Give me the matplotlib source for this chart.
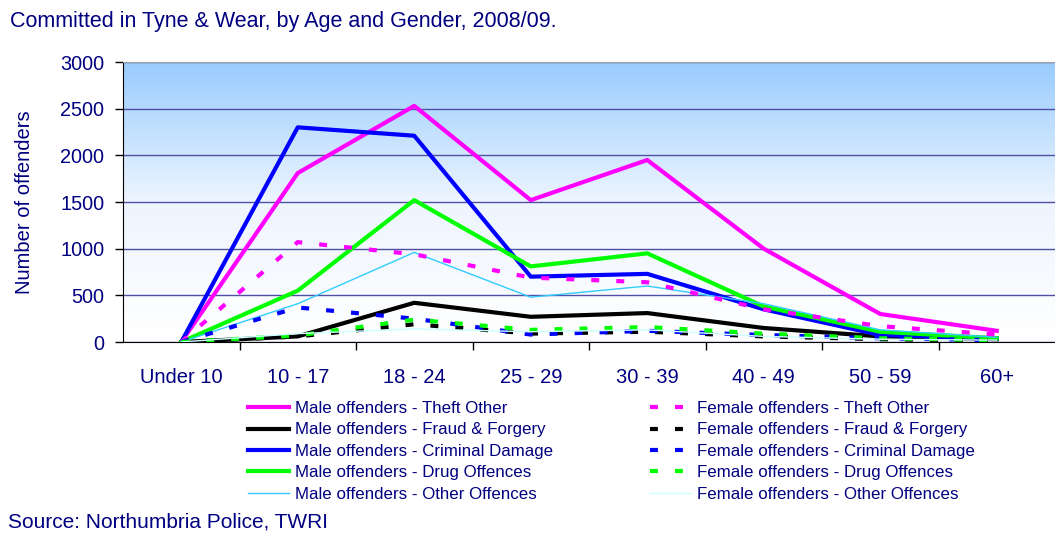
import numpy as np
import matplotlib.pyplot as plt
from matplotlib.colors import LinearSegmentedColormap

plt.rcParams['font.family'] = ['Liberation Sans', 'DejaVu Sans']

navy = '#000080'

age_groups = ['Under 10', '10 - 17', '18 - 24', '25 - 29', '30 - 39', '40 - 49', '50 - 59', '60+']

male_theft = [0, 1810, 2530, 1520, 1950, 1000, 300, 120]
male_fraud = [0, 60, 420, 270, 310, 150, 60, 30]
male_damage = [0, 2300, 2210, 700, 730, 350, 75, 40]
male_drug = [0, 550, 1520, 810, 950, 380, 110, 40]
male_other = [0, 410, 960, 480, 600, 410, 130, 50]

female_theft = [0, 1070, 940, 690, 640, 350, 170, 80]
female_fraud = [0, 60, 190, 90, 110, 60, 30, 15]
female_damage = [0, 370, 250, 80, 120, 75, 40, 20]
female_drug = [0, 70, 240, 130, 160, 90, 40, 20]
female_other = [0, 90, 140, 110, 130, 60, 30, 20]

male_labels = ['Male offenders - Theft Other', 'Male offenders - Fraud & Forgery',
               'Male offenders - Criminal Damage', 'Male offenders - Drug Offences',
               'Male offenders - Other Offences']
female_labels = ['Female offenders - Theft Other', 'Female offenders - Fraud & Forgery',
                 'Female offenders - Criminal Damage', 'Female offenders - Drug Offences',
                 'Female offenders - Other Offences']

fig = plt.figure(figsize=(10.55, 5.47), dpi=100)
ax = fig.add_axes([123 / 1055, 1 - 342 / 547, 1 - 123 / 1055, 280 / 547])

# background gradient: white at the bottom, light blue at the top
grad = np.linspace(0, 1, 256).reshape(-1, 1)
cmap = LinearSegmentedColormap.from_list('bg', ['#ffffff', '#eef5fe', '#99ccff'])
ax.imshow(grad, aspect='auto', cmap=cmap, origin='lower',
          extent=(-0.5, 7.5, 0, 3000), zorder=0)

x = np.arange(len(age_groups))
ax.grid(axis='y', color='#4f4fa3', linewidth=1.0, zorder=1)

dash = (0, (1.9, 4.1))
lines = []
lines += ax.plot(x, male_theft, color='#ff00ff', lw=3, zorder=3)
lines += ax.plot(x, male_fraud, color='#000000', lw=3, zorder=3)
lines += ax.plot(x, male_damage, color='#0000ff', lw=3, zorder=3)
lines += ax.plot(x, male_drug, color='#00ff00', lw=3, zorder=3)
lines += ax.plot(x, male_other, color='#33ccff', lw=1, zorder=3)
flines = []
flines += ax.plot(x, female_theft, color='#ff00ff', lw=3, ls=dash, zorder=3)
flines += ax.plot(x, female_fraud, color='#000000', lw=3, ls=dash, zorder=3)
flines += ax.plot(x, female_damage, color='#0000ff', lw=3, ls=dash, zorder=3)
flines += ax.plot(x, female_drug, color='#00ff00', lw=3, ls=dash, zorder=3)
flines += ax.plot(x, female_other, color='#ccffff', lw=1, zorder=3)

ax.set_xlim(-0.5, 7.5)
ax.set_ylim(0, 3000)
ax.set_yticks(np.arange(0, 3001, 500))
ax.set_xticks(x)
ax.set_xticklabels(age_groups)
ax.set_xticks(np.arange(0.5, 7.5, 1), minor=True)
ax.tick_params(axis='x', which='major', length=0, pad=19, labelsize=14.5, labelcolor=navy)
ax.tick_params(axis='x', which='minor', length=6, width=1, direction='out')
ax.tick_params(axis='y', length=5.5, width=1, pad=8, labelsize=14.3, labelcolor=navy)

ax.spines['right'].set_visible(False)
ax.spines['top'].set_color('#a0a0a0')
ax.spines['left'].set_color('black')
ax.spines['bottom'].set_color('black')

ax.set_ylabel('Number of offenders', fontsize=14.5, color=navy, labelpad=19)

leg_kw = dict(loc='upper left', frameon=False, fontsize=12.2, labelcolor=navy,
              borderpad=0, borderaxespad=0, handlelength=2.4, handletextpad=0.35,
              labelspacing=0.38)
leg1 = fig.legend(lines, male_labels, bbox_to_anchor=(248 / 1055, 1 - 401 / 547), **leg_kw)
leg2 = fig.legend(flines, female_labels, bbox_to_anchor=(650 / 1055, 1 - 401 / 547), **leg_kw)

fig.text(10 / 1055, 1 - 21 / 547, 'Committed in Tyne & Wear, by Age and Gender, 2008/09.',
         fontsize=15.5, color=navy, va='center', ha='left')
fig.text(8 / 1055, 1 - 522 / 547, 'Source: Northumbria Police, TWRI',
         fontsize=15, color=navy, va='center', ha='left')

fig.savefig('out.png', dpi=100)
